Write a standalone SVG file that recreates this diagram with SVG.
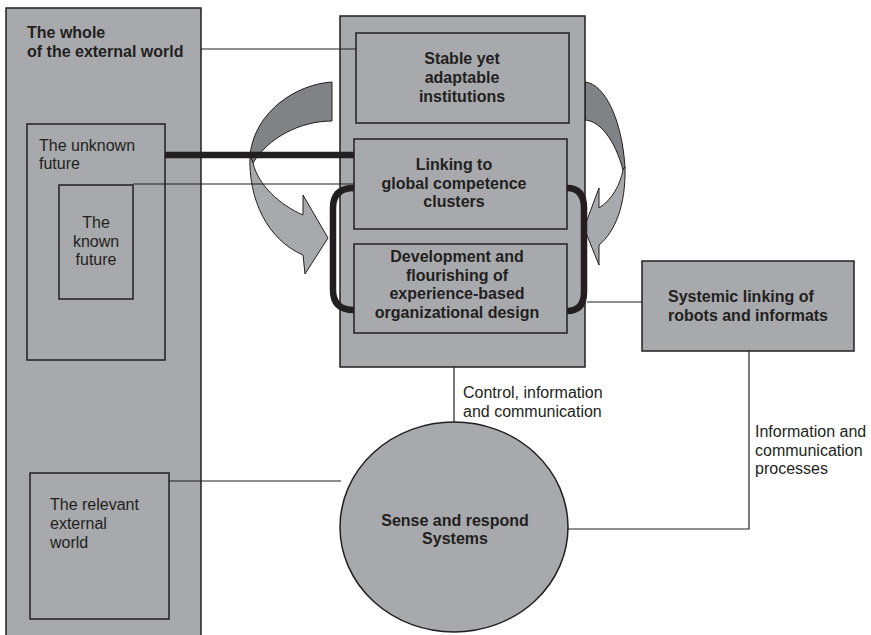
<svg xmlns="http://www.w3.org/2000/svg" width="871" height="635" viewBox="0 0 871 635">
<style>
.box{fill:#a7a9ac;stroke:#231f20;stroke-width:1.5}
.t{font-family:"Liberation Sans",Arial,Helvetica,sans-serif;font-size:16px;fill:#231f20}
.b{font-weight:bold}
.m{text-anchor:middle}
.thin{stroke:#231f20;stroke-width:1.2;fill:none}
.thick{stroke:#231f20;stroke-width:6.5;fill:none}
.dark{fill:#808285;stroke:#231f20;stroke-width:1}
.light{fill:#a7a9ac;stroke:#231f20;stroke-width:1}
</style>
<rect width="871" height="635" fill="#ffffff"/>

<g id="external-world">
<rect class="box" x="6" y="8" width="195" height="640"/>
<text class="t b" x="27" y="38">The whole</text>
<text class="t b" x="27" y="57">of the external world</text>
</g>
<g id="unknown-future">
<rect class="box" x="27" y="124" width="138" height="236"/>
<text class="t" x="39" y="151">The unknown</text>
<text class="t" x="39" y="169">future</text>
</g>
<g id="known-future">
<rect class="box" x="59" y="185" width="74" height="114"/>
<text class="t m" x="96" y="228">The</text>
<text class="t m" x="96" y="246.5">known</text>
<text class="t m" x="96" y="265">future</text>
</g>
<g id="relevant-world">
<rect class="box" x="30" y="473" width="139" height="146"/>
<text class="t" x="50" y="510">The relevant</text>
<text class="t" x="50" y="529">external</text>
<text class="t" x="50" y="548">world</text>
</g>

<g id="cycle-arrows">
<path class="dark" d="M332,82 C298,84 255,110 250,155 L253,163 C268,138 300,121 332,121 Z"/>
<path class="light" d="M250,155 C248,200 268,240 303,255 L305,274 L328,238 L303,195 L303,215 C280,205 258,185 253,163 Z"/>
<path class="dark" d="M585,82 C605,84 622,120 625,167 L623,170 C615,140 600,121 585,120 Z"/>
<path class="light" d="M625,167 C626,205 615,232 599,245 L599,265 L584,228 L599,188 L599,208 C612,200 620,185 623,170 Z"/>
</g>

<g id="organization">
<rect class="box" x="340" y="16" width="245" height="351"/>
</g>
<g id="stable-institutions">
<rect class="box" x="356" y="33" width="213" height="90"/>
<text class="t b m" x="462" y="64">Stable yet</text>
<text class="t b m" x="462" y="83">adaptable</text>
<text class="t b m" x="462" y="102">institutions</text>
</g>
<g id="linking-clusters">
<rect class="box" x="354" y="139" width="213" height="90"/>
<text class="t b m" x="454" y="170">Linking to</text>
<text class="t b m" x="454" y="189">global competence</text>
<text class="t b m" x="454" y="207">clusters</text>
</g>
<g id="development">
<rect class="box" x="354" y="244" width="213" height="89"/>
<text class="t b m" x="457" y="262">Development and</text>
<text class="t b m" x="457" y="281">flourishing of</text>
<text class="t b m" x="457" y="299">experience-based</text>
<text class="t b m" x="457" y="318">organizational design</text>
</g>

<g id="connectors">
<path class="thin" d="M201,49 H356"/>
<path class="thin" d="M133,184 H354"/>
<path class="thin" d="M587,302 H642"/>
<path class="thin" d="M454,367 V423"/>
<path class="thin" d="M749,351 V529 H568"/>
<path class="thin" d="M169,481 H341"/>
<path class="thick" d="M165,155 H354"/>
<path class="thick" d="M354,188 Q333,188 333,208 L333,290 Q333,310 354,310"/>
<path class="thick" d="M567,188 Q584,188 584,208 L584,292 Q584,311 567,311"/>
</g>

<g id="systemic-linking">
<rect class="box" x="642" y="261" width="212" height="90"/>
<text class="t b" x="668" y="302">Systemic linking of</text>
<text class="t b" x="668" y="321">robots and informats</text>
</g>
<g id="sense-respond">
<ellipse class="box" cx="454" cy="527" rx="114" ry="105"/>
<text class="t b m" x="455" y="526">Sense and respond</text>
<text class="t b m" x="455" y="544">Systems</text>
</g>

<g id="labels">
<text class="t" x="463" y="398">Control, information</text>
<text class="t" x="463" y="417">and communication</text>
<text class="t" x="755" y="437">Information and</text>
<text class="t" x="755" y="456">communication</text>
<text class="t" x="755" y="474">processes</text>
</g>
</svg>
